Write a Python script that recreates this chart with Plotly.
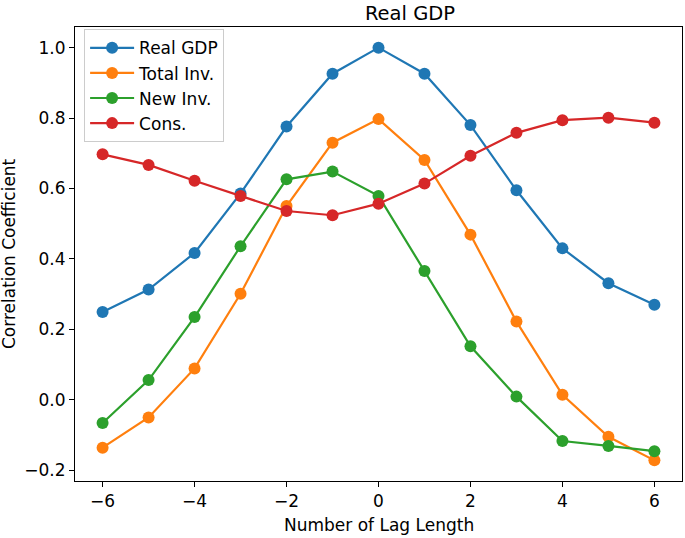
import plotly.graph_objects as go

lags = [-6, -5, -4, -3, -2, -1, 0, 1, 2, 3, 4, 5, 6]
real_gdp = [0.249, 0.313, 0.417, 0.586, 0.776, 0.926, 1.0, 0.926, 0.780, 0.595, 0.430, 0.331, 0.270]
total_inv = [-0.136, -0.050, 0.089, 0.301, 0.550, 0.730, 0.797, 0.681, 0.469, 0.222, 0.014, -0.105, -0.172]
new_inv = [-0.066, 0.056, 0.235, 0.436, 0.626, 0.648, 0.579, 0.366, 0.152, 0.009, -0.117, -0.131, -0.146]
cons = [0.697, 0.667, 0.622, 0.579, 0.536, 0.524, 0.557, 0.614, 0.693, 0.758, 0.794, 0.801, 0.787]

series = [
    ("Real GDP", real_gdp, "#1f77b4"),
    ("Total Inv.", total_inv, "#ff7f0e"),
    ("New Inv.", new_inv, "#2ca02c"),
    ("Cons.", cons, "#d62728"),
]

FONT = "DejaVu Sans"
FS = 17

fig = go.Figure()
for name, vals, color in series:
    fig.add_trace(go.Scatter(
        x=lags, y=vals, name=name, mode="lines+markers",
        line=dict(color=color, width=2.2),
        marker=dict(color=color, size=12),
    ))

axis_common = dict(
    showline=True, linecolor="black", linewidth=1, mirror=True,
    ticks="outside", ticklen=5, tickwidth=1, tickcolor="black",
    showgrid=False, zeroline=False, automargin=False,
    tickfont=dict(family=FONT, size=FS, color="black"),
)

fig.update_layout(
    width=685, height=538,
    paper_bgcolor="white", plot_bgcolor="white",
    margin=dict(l=75, r=3, t=27, b=57, autoexpand=False),
    title=dict(text="Real GDP", x=378 / 685, xanchor="center", y=1 - 13 / 538, yanchor="middle",
               xref="paper", yref="container", automargin=False,
               font=dict(family=FONT, size=19.5, color="black")),
    font=dict(family=FONT, color="black"),
    xaxis=dict(range=[-6.6, 6.6], tickvals=[-6, -4, -2, 0, 2, 4, 6], **axis_common),
    yaxis=dict(range=[-0.2306, 1.0586], tickvals=[-0.2, 0.0, 0.2, 0.4, 0.6, 0.8, 1.0], tickformat=".1f",
               **axis_common),
    legend=dict(x=0.015, y=0.995, xanchor="left", yanchor="top", itemwidth=44,
                bordercolor="#cccccc", borderwidth=1, bgcolor="rgba(255,255,255,0.8)",
                font=dict(family=FONT, size=FS, color="black"), tracegroupgap=0),
    showlegend=True,
    annotations=[
        dict(text="Number of Lag Length", xref="paper", yref="paper", x=0.5, y=-(525 - 481) / 454,
             xanchor="center", yanchor="middle", showarrow=False,
             font=dict(family=FONT, size=FS, color="black")),
        dict(text="Correlation Coefficient", xref="paper", yref="paper", x=-(75 - 9) / 607, y=0.5,
             xanchor="center", yanchor="middle", showarrow=False, textangle=-90,
             font=dict(family=FONT, size=FS, color="black")),
    ],
)

fig.write_html("out.html", config={"displayModeBar": False},
               post_script="document.body.style.margin='0px';")
